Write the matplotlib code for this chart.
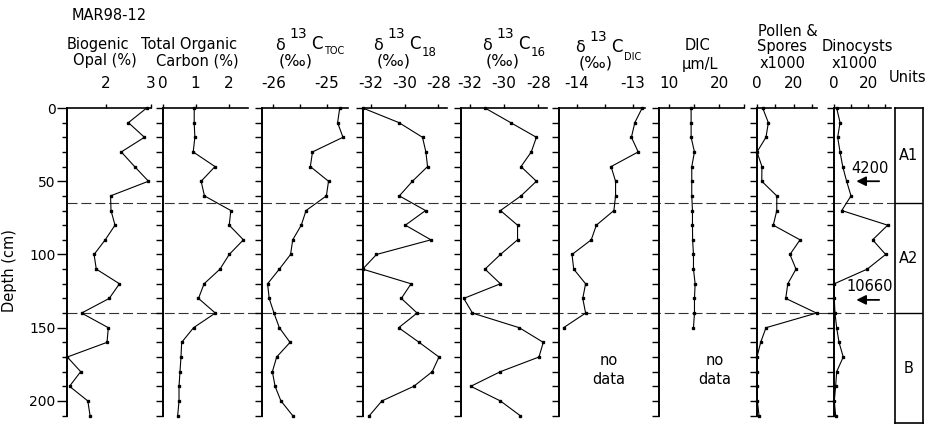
import matplotlib
matplotlib.use('Agg')
import matplotlib.pyplot as plt

plt.rcParams['font.family'] = ['DejaVu Sans']

W, H = 925, 424

# DATA
depth = [0, 10, 20, 30, 40, 50, 60, 70, 80, 90, 100,
         110, 120, 130, 140, 150, 160, 170, 180, 190, 200, 210]
depth_dic = depth[:16]

opal = [2.91, 2.50, 2.86, 2.34, 2.64, 2.95, 2.10, 2.11, 2.20, 1.98, 1.73,
        1.78, 2.30, 2.07, 1.45, 2.05, 2.02, 1.13, 1.43, 1.18, 1.59, 1.64]
toc = [0.96, 0.96, 0.98, 0.93, 1.59, 1.17, 1.27, 2.07, 2.02, 2.45, 2.02,
       1.74, 1.26, 1.09, 1.60, 0.94, 0.58, 0.56, 0.53, 0.50, 0.50, 0.46]
d13c_toc = [-24.76, -24.80, -24.70, -25.27, -25.31, -24.97, -25.01, -25.39,
            -25.48, -25.64, -25.68, -25.89, -26.11, -26.08, -25.99, -25.89,
            -25.69, -25.94, -26.02, -25.97, -25.86, -25.64]
d13c_18 = [-32.5, -30.34, -28.94, -28.74, -28.64, -29.54, -30.32, -28.76,
           -29.96, -28.44, -31.68, -32.5, -29.62, -30.2, -29.26, -30.36,
           -29.14, -27.96, -28.36, -29.46, -31.36, -32.1]
d13c_16 = [-31.1, -29.6, -28.1, -28.4, -29.0, -28.1, -29.0, -30.2, -29.2,
           -29.2, -30.2, -31.1, -30.2, -32.34, -31.83, -29.1, -27.7, -27.95,
           -30.2, -31.93, -30.2, -29.05]
d13c_dic = [-12.84, -12.97, -13.03, -12.91, -13.39, -13.31, -13.31, -13.34,
            -13.65, -13.74, -14.08, -14.05, -13.84, -13.89, -13.84, -14.23]
dic = [14.4, 14.4, 14.4, 15.07, 14.53, 14.53, 14.53, 14.67, 14.67, 14.7,
       14.87, 14.87, 15.2, 15.07, 15.07, 14.87]
pollen = [3.1, 6.2, 4.9, 0, 2.7, 2.6, 10.8, 10.8, 8.9, 23.5, 18.0,
          21.3, 16.8, 15.7, 32.5, 4.9, 2.0, 0, 0, 0, 0.2, 1.1]
dinocysts = [1.4, 3.4, 2.0, 3.4, 5.0, 7.3, 9.9, 4.4, 31.6, 22.7, 30.4,
             19.5, 0, 0, 0.4, 1.4, 2.8, 5.3, 1.4, 0.8, 0, 0.8]

unit_names = ['A1', 'A2', 'B']
unit_bounds = [0, 65, 140, 215]
age_labels = ['4200', '10660']
age_depths = [50, 131]

# (values, depths, x-left px, x-right px, xlim, ticks, tick labels)
panels = [
    (opal, depth, 67.3, 150.7, (1.13, 3.0), [2, 3], ['2', '3']),
    (toc, depth, 162.5, 247.7, (0, 2.58), [0, 1, 2], ['0', '1', '2']),
    (d13c_toc, depth, 261.7, 348.3, (-26.22, -24.6), [-26, -25.5, -25], ['-26', '', '-25']),
    (d13c_18, depth, 362.7, 446.7, (-32.5, -27.5), [-32, -30, -28], ['-32', '-30', '-28']),
    (d13c_16, depth, 461.0, 546.7, (-32.5, -27.5), [-32, -30, -28], ['-32', '-30', '-28']),
    (d13c_dic, depth_dic, 559.0, 645.0, (-14.31, -12.79), [-14, -13.5, -13], ['-14', '', '-13']),
    (dic, depth_dic, 659.0, 744.3, (8, 25), [10, 15, 20, 25], ['10', '', '20', '']),
    (pollen, depth, 757.0, 816.7, (0, 32.6), [0, 10, 20, 30], ['0', '', '20', '']),
    (dinocysts, depth, 834.3, 890.7, (0, 33.4), [0, 10, 20, 30], ['0', '', '20', '']),
]

TOP, BOT = 108.0, 415.6


def fx(x):
    return x / W


def fy(y):
    return 1 - y / H


fig = plt.figure(figsize=(W / 100, H / 100), dpi=100)
fig.patch.set_facecolor('w')

# dashed unit boundaries across all panels
ax_bg = fig.add_axes([fx(67.3), fy(BOT), fx(895 - 67.3), (BOT - TOP) / H])
ax_bg.set_ylim(210, 0)
ax_bg.axis('off')
for b in unit_bounds[1:-1]:
    ax_bg.axhline(b, color='#333333', lw=0.8, dashes=(9, 3.5))

axes = []
for i, (vals, dep, x0, x1, xlim, ticks, labels) in enumerate(panels):
    ax = fig.add_axes([fx(x0), fy(BOT), fx(x1 - x0), (BOT - TOP) / H])
    ax.patch.set_alpha(0)
    ax.plot(vals, dep, '-s', color='k', lw=0.8, ms=1.8, clip_on=False)
    ax.set_xlim(*xlim)
    ax.set_ylim(210, 0)
    ax.spines[['right', 'bottom']].set_visible(False)
    ax.spines['left'].set_linewidth(1.4)
    ax.spines['top'].set_linewidth(1.2)
    ax.xaxis.tick_top()
    ax.set_xticks(ticks)
    ax.set_xticklabels(labels)
    ax.tick_params(axis='x', direction='out', length=3, width=1, pad=9, labelsize=11)
    if i == 0:
        ax.set_yticks([0, 50, 100, 150, 200])
        ax.set_yticks(depth, minor=True)
        ax.tick_params(axis='y', which='major', direction='out', length=7, width=1,
                       pad=1.5, labelsize=10)
        ax.tick_params(axis='y', which='minor', direction='out', length=3.5, width=1)
        ax.set_ylabel('Depth (cm)', fontsize=10.5, labelpad=2)
        ax.yaxis.set_label_coords(fx(16.7 - 67.3) / fx(x1 - x0), 0.47)
    else:
        ax.set_yticks(depth)
        ax.set_yticklabels([])
        ax.tick_params(axis='y', direction='out', length=5, width=1)
    axes.append(ax)

# no data notes
axes[5].text(-13.43, 179, 'no\ndata', ha='center', va='center', fontsize=10.5, linespacing=1.3)
axes[6].text(19.2, 179, 'no\ndata', ha='center', va='center', fontsize=10.5, linespacing=1.3)

# age arrows on the dinocyst panel
ax_d = axes[8]
for lab, d in zip(age_labels, age_depths):
    ax_d.annotate('', xy=(11.4, d), xytext=(28.2, d), annotation_clip=False,
                  arrowprops=dict(arrowstyle='-|>', lw=1.3, color='k', mutation_scale=14))
    ax_d.text(21, d - 9, lab, ha='center', va='center', fontsize=10.5, clip_on=False)

# units column
ax_u = fig.add_axes([fx(895), fy(423), fx(923 - 895), (423 - TOP) / H])
ax_u.set_ylim(unit_bounds[-1], 0)
ax_u.set_xlim(0, 1)
ax_u.set_xticks([])
ax_u.set_yticks([])
for s in ax_u.spines.values():
    s.set_linewidth(1.2)
for b in unit_bounds[1:-1]:
    ax_u.axhline(b, color='k', lw=1.0)
for name, a, b in zip(unit_names, unit_bounds[:-1], unit_bounds[1:]):
    ax_u.text(0.5, (a + b) / 2, name, ha='center', va='center', fontsize=10.5)

# headers
fig.text(fx(72), fy(15), 'MAR98-12', ha='left', va='center', fontsize=10.5)
headers = [
    (98, 44.5, 'Biogenic'), (105, 61, 'Opal (%)'),
    (189, 44.5, 'Total Organic'), (197, 61, 'Carbon (%)'),
    (697, 45, 'DIC'), (700, 64, '\u00b5m/L'),
    (788, 31, 'Pollen &'), (782, 46, 'Spores'), (783, 64, 'x1000'),
    (857, 46, 'Dinocysts'), (855, 64, 'x1000'),
    (908, 77, 'Units'),
]
for x, y, s in headers:
    fig.text(fx(x), fy(y), s, ha='center', va='center', fontsize=10.5)

iso_headers = [(280, 0, 'TOC', 51, 7), (378, 0, '18', 53, 8.5),
               (487, 0, '16', 53, 8.5), (580, 2.5, 'DIC', 57, 7)]
for xd, dy, sub, sy, ss in iso_headers:
    fig.text(fx(xd), fy(45 + dy), '\u03b4', ha='center', va='center', fontsize=11.5)
    fig.text(fx(xd + 18), fy(34.5 + dy), '13', ha='center', va='center', fontsize=10)
    fig.text(fx(xd + 36.5), fy(44 + dy), 'C', ha='center', va='center', fontsize=12)
    fig.text(fx(xd + 44), fy(sy), sub, ha='left', va='center', fontsize=ss)
    fig.text(fx(xd + 15.5), fy(61 + dy), '(\u2030)', ha='center', va='center', fontsize=11.5)

plt.savefig('out.png', dpi=100)
